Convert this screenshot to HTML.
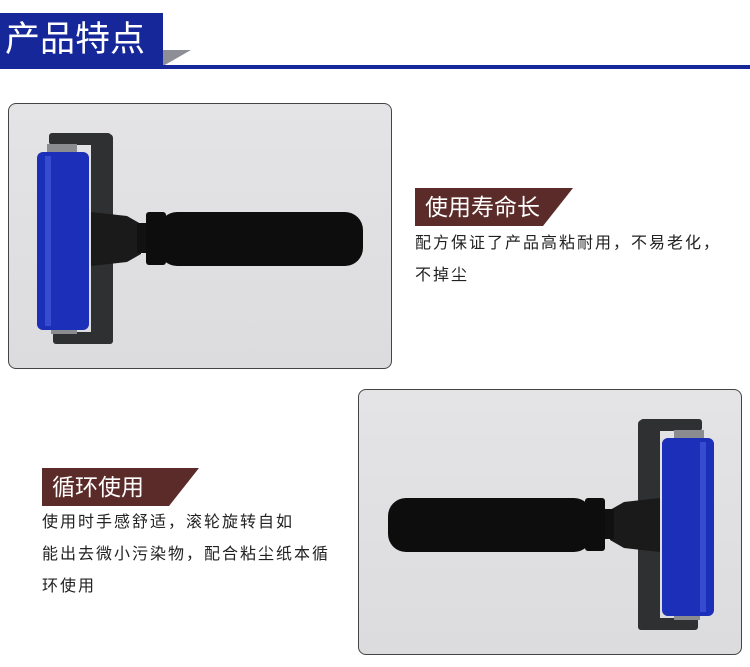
<!DOCTYPE html>
<html><head><meta charset="utf-8"><style>
body{margin:0;width:750px;height:667px;background:#fff;position:relative;overflow:hidden;font-family:"Liberation Sans","Noto Sans CJK SC",sans-serif}
.a{position:absolute}
.box{position:absolute;width:382px;height:264px;border:1px solid #444;border-radius:8px;background:linear-gradient(#e4e4e6,#dcdcde);overflow:hidden}
.lab{position:absolute;height:38px;background:#5a2b28;color:#fff;font-size:23px;line-height:38px;padding-left:10px;box-sizing:border-box;clip-path:polygon(0 0,100% 0,calc(100% - 30px) 100%,0 100%)}
.t{position:absolute;font-size:16px;letter-spacing:2px;color:#222;line-height:32px;white-space:nowrap}
</style></head><body>
<div class="a" style="left:0;top:13px;width:163px;height:53px;background:#16279a;color:#fff;font-size:35px;line-height:53px;padding-left:5px;box-sizing:border-box;white-space:nowrap">产品特点</div>
<div class="a" style="left:163px;top:50px;width:28px;height:16px;background:#8e8e96;clip-path:polygon(0 0,100% 0,0 100%)"></div>
<div class="a" style="left:0;top:65px;width:750px;height:4px;background:#16279a"></div>

<svg width="0" height="0" style="position:absolute"><defs>
<g id="roll">
<rect x="40" y="29" width="62" height="12" rx="3" fill="#2f3032"/>
<rect x="82" y="30" width="22" height="210" rx="4" fill="#2f3032"/>
<rect x="44" y="228" width="60" height="12" rx="3" fill="#2f3032"/>
<rect x="38" y="40" width="30" height="10" fill="#8a8c90"/>
<rect x="42" y="220" width="26" height="10" fill="#8a8c90"/>
<rect x="28" y="48" width="52" height="178" rx="6" fill="#1c2fb8"/>
<rect x="36" y="52" width="6" height="170" fill="#4a5fe0" opacity=".6"/>
<path d="M82 108 L118 112 L132 120 L132 150 L118 158 L82 162 Z" fill="#1a1a1a"/>
<rect x="128" y="119" width="12" height="30" fill="#111"/>
<rect x="137" y="108" width="20" height="53" rx="3" fill="#0d0d0d"/>
<rect x="150" y="108" width="204" height="54" rx="18" fill="#0d0d0d"/>
</g></defs></svg>

<div class="box" style="left:8px;top:103px"><svg width="382" height="264"><use href="#roll"/></svg></div>
<div class="box" style="left:358px;top:389px"><svg width="382" height="264"><g transform="translate(383,0) scale(-1,1)"><use href="#roll"/></g></svg></div>

<div class="lab" style="left:415px;top:188px;width:158px">使用寿命长</div>
<div class="t" style="left:415px;top:228px">配方保证了产品高粘耐用，不易老化，<br>不掉尘</div>

<div class="lab" style="left:42px;top:468px;width:157px">循环使用</div>
<div class="t" style="left:42px;top:507px">使用时手感舒适，滚轮旋转自如<br>能出去微小污染物，配合粘尘纸本循<br>环使用</div>
</body></html>
